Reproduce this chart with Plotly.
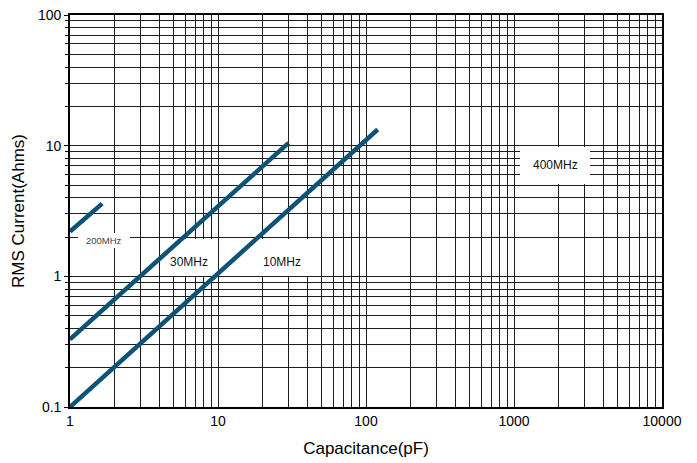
import plotly.graph_objects as go

# Data (log-log)
cap_10mhz = [1, 120]
cur_10mhz = [0.1, 13.3]
cap_30mhz = [1, 30]
cur_30mhz = [0.33, 10.5]
cap_200mhz = [1, 1.65]
cur_200mhz = [2.2, 3.6]

# Label texts
labels = ["200MHz", "30MHz", "10MHz", "400MHz"]

LINE_COLOR = "#0d5378"
GRID = "#1e1e1e"

# plot area in pixels: x 70..662, y 15..407
L, R, T, B = 70, 662, 15, 407
W, H = R - L, B - T

def px(x):
    return (x - L) / W

def py(y):
    return (B - y) / H

def xd(x):
    return 10 ** (px(x) * 4)

def yd(y):
    return 10 ** (py(y) * 3 - 1)

# label boxes (pixel extents) and text centers
boxes = [
    (78, 130, 233, 248, 104, 241, 9.5, "#444"),
    (164, 218, 239, 276, 189, 262, 12, "#111"),
    (262, 318, 239, 276, 282, 262, 12, "#111"),
    (520, 590, 147, 184, 555, 165, 12, "#111"),
]

fig = go.Figure()
annotations = []
for (x0, x1, y0, y1, tx, ty, fs, col), txt in zip(boxes, labels):
    fig.add_trace(go.Scatter(
        x=[xd(x0), xd(x1), xd(x1), xd(x0), xd(x0)],
        y=[yd(y1), yd(y1), yd(y0), yd(y0), yd(y1)],
        mode="lines", fill="toself", fillcolor="white", line=dict(width=0, color="white"),
        showlegend=False, hoverinfo="skip"))
    annotations.append(dict(text=txt, xref="paper", yref="paper", x=px(tx), y=py(ty),
                            showarrow=False, xanchor="center", yanchor="middle",
                            font=dict(family="Liberation Sans, Arial", size=fs, color=col)))

for xs, ys in [(cap_10mhz, cur_10mhz), (cap_30mhz, cur_30mhz), (cap_200mhz, cur_200mhz)]:
    fig.add_trace(go.Scatter(x=xs, y=ys, mode="lines",
                             line=dict(color=LINE_COLOR, width=4.5),
                             showlegend=False, hoverinfo="skip"))

axis_common = dict(
    type="log", dtick=1, showgrid=True, gridcolor=GRID, gridwidth=1.3,
    showline=True, linecolor="black", linewidth=1.6, mirror=True,
    zeroline=False, tickformat="~g", exponentformat="none", automargin=False,
    tickfont=dict(family="Liberation Sans, Arial", size=14, color="black"),
)

fig.update_layout(
    width=697, height=463,
    margin=dict(l=L, r=697 - R, t=T, b=463 - B),
    paper_bgcolor="white", plot_bgcolor="white",
    annotations=annotations,
    xaxis=dict(**axis_common, range=[0, 4],
               ticks="",
               minor=dict(dtick="D1", showgrid=True, gridcolor=GRID, gridwidth=1.1, ticks=""),
               title=dict(text="Capacitance(pF)", standoff=15,
                          font=dict(family="Liberation Sans, Arial", size=17, color="black"))),
    yaxis=dict(**axis_common, range=[-1, 2],
               ticks="outside", ticklen=4, tickcolor="black",
               minor=dict(dtick="D1", showgrid=True, gridcolor=GRID, gridwidth=1.1,
                          ticks="outside", ticklen=3, tickcolor="black"),
               title=dict(text="RMS Current(Ahms)", standoff=9,
                          font=dict(family="Liberation Sans, Arial", size=17, color="black"))),
)

fig.write_html("out.html", config={"displayModeBar": False},
               post_script="document.body.style.margin='0px';")
